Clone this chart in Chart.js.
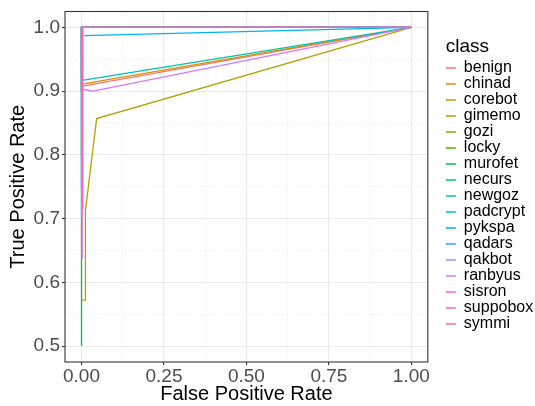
<!DOCTYPE html>
<html>
<head>
<meta charset="utf-8">
<script src="https://cdn.jsdelivr.net/npm/chart.js@4/dist/chart.umd.min.js"></script>
<style>
  body { margin: 0; background: #fff; }
  #wrap { width: 535px; height: 406px; }
</style>
</head>
<body>
<div id="wrap"><canvas id="roc" width="535" height="406"></canvas></div>
<script>
// ROC curves, one per class
const classes = ["benign", "chinad", "corebot", "gimemo", "gozi", "locky", "murofet", "necurs",
  "newgoz", "padcrypt", "pykspa", "qadars", "qakbot", "ranbyus", "sisron", "suppobox", "symmi"];

const fprByClass = [
  [0.003, 1],                 // benign
  [0, 0, 1],                  // chinad
  [0.002, 1],                 // corebot
  [0, 0.011, 0.012, 0.046, 1],// gimemo
  [0, 0, 1],                  // gozi
  [0, 0, 1],                  // locky
  [0, 0, 1],                  // murofet
  [0, 0, 1],                  // necurs
  [0.002, 1],                 // newgoz
  [0, 0, 1],                  // padcrypt
  [0.008, 1],                 // pykspa
  [0, 0, 1],                  // qadars
  [0, 0, 1],                  // qakbot
  [0.003, 0.035, 1],          // ranbyus
  [0.002, 0.002, 1],          // sisron
  [0.004, 0.004, 1],          // suppobox
  [0, 0, 1]                   // symmi
];
const tprByClass = [
  [0.908, 1],
  [0.9, 1, 1],
  [0.911, 1],
  [0.572, 0.572, 0.713, 0.857, 1],
  [0.95, 1, 1],
  [0.8, 1, 1],
  [0.5, 1, 1],
  [0.9, 1, 1],
  [0.917, 1],
  [0.9, 1, 1],
  [0.987, 1],
  [0.75, 1, 1],
  [0.7, 1, 1],
  [0.903, 0.9, 1],
  [0.637, 1, 1],
  [0.715, 1, 1],
  [0.9, 1, 1]
];

const xTicks = [0, 0.25, 0.5, 0.75, 1];
const xMinor = [0.125, 0.375, 0.625, 0.875];
const yTicks = [0.5, 0.6, 0.7, 0.8, 0.9, 1.0];
const yMinor = [0.55, 0.65, 0.75, 0.85, 0.95];

// ggplot-like hue palette
function hcl(h, c, l) {
  const rad = h * Math.PI / 180;
  const U = c * Math.cos(rad), V = c * Math.sin(rad);
  const Xn = 95.047, Yn = 100, Zn = 108.883;
  const Y = Yn * (l > 8 ? Math.pow((l + 16) / 116, 3) : l / 903.3);
  const t = Xn + 15 * Yn + 3 * Zn;
  const u = U / (13 * l) + 4 * Xn / t;
  const v = V / (13 * l) + 9 * Yn / t;
  const X = 9 * Y * u / (4 * v);
  const Z = (9 * Y - 15 * v * Y - v * X) / (3 * v);
  const x = X / 100, y = Y / 100, z = Z / 100;
  const lin = [
    3.240479 * x - 1.537150 * y - 0.498535 * z,
    -0.969256 * x + 1.875992 * y + 0.041556 * z,
    0.055648 * x - 0.204043 * y + 1.057311 * z
  ];
  const rgb = lin.map(q => {
    const g = q <= 0.0031308 ? 12.92 * q : 1.055 * Math.pow(q, 1 / 2.4) - 0.055;
    return Math.round(Math.min(1, Math.max(0, g)) * 255);
  });
  return "rgb(" + rgb.join(",") + ")";
}
const colors = classes.map((_, i) => hcl(15 + i * 360 / classes.length, 100, 65));

const font = "Helvetica, 'Liberation Sans', Arial, sans-serif";

const datasets = classes.map((name, i) => ({
  label: name,
  data: fprByClass[i].map((x, j) => ({ x: x, y: tprByClass[i][j] })),
  borderColor: colors[i],
  backgroundColor: colors[i],
  borderWidth: 1.3,
  pointRadius: 0,
  fill: false,
  tension: 0,
  order: -i
}));

const panelBorder = {
  id: "panelBorder",
  afterDraw(chart) {
    const a = chart.chartArea, ctx = chart.ctx;
    ctx.save();
    ctx.strokeStyle = "#333333";
    ctx.lineWidth = 1.1;
    ctx.strokeRect(a.left, a.top, a.right - a.left, a.bottom - a.top);
    ctx.restore();
  }
};

function setTicks(major, minor) {
  return scale => {
    const all = major.map(v => ({ value: v, major: true }))
      .concat(minor.map(v => ({ value: v, major: false })));
    all.sort((a, b) => a.value - b.value);
    scale.ticks = all;
  };
}

const isMajor = c => c.tick && c.tick.major;

new Chart(document.getElementById("roc"), {
  type: "line",
  data: { datasets: datasets },
  plugins: [panelBorder],
  options: {
    responsive: false,
    devicePixelRatio: 1,
    animation: false,
    layout: { padding: { top: 9, right: 0, left: 0, bottom: 0 } },
    scales: {
      x: {
        type: "linear",
        min: -0.05,
        max: 1.05,
        afterBuildTicks: setTicks(xTicks, xMinor),
        afterFit: s => { s.height = 44; },
        border: { display: false, dash: c => (isMajor(c) ? [] : [1, 2]) },
        grid: {
          color: c => (isMajor(c) ? "#ebebeb" : "#e6e6e6"),
          lineWidth: c => (isMajor(c) ? 1.1 : 0.8),
          tickColor: c => (isMajor(c) ? "#333333" : "rgba(0,0,0,0)"),
          tickLength: 3
        },
        ticks: {
          autoSkip: false,
          maxRotation: 0,
          padding: 2,
          color: "#4d4d4d",
          font: { family: font, size: 19, lineHeight: 1 },
          callback: (v, i, t) => (t[i].major ? v.toFixed(2) : "")
        },
        title: {
          display: true,
          text: "False Positive Rate",
          color: "#000",
          font: { family: font, size: 20, lineHeight: 1 },
          padding: { top: 0, bottom: 2 }
        }
      },
      y: {
        type: "linear",
        min: 0.475,
        max: 1.025,
        afterBuildTicks: setTicks(yTicks, yMinor),
        afterFit: s => { s.width = 65; },
        border: { display: false, dash: c => (isMajor(c) ? [] : [1, 2]) },
        grid: {
          color: c => (isMajor(c) ? "#ebebeb" : "#e6e6e6"),
          lineWidth: c => (isMajor(c) ? 1.1 : 0.8),
          tickColor: c => (isMajor(c) ? "#333333" : "rgba(0,0,0,0)"),
          tickLength: 3
        },
        ticks: {
          autoSkip: false,
          padding: 2,
          color: "#4d4d4d",
          font: { family: font, size: 19, lineHeight: 1 },
          callback: (v, i, t) => (t[i].major ? v.toFixed(1) : "")
        },
        title: {
          display: true,
          text: "True Positive Rate",
          color: "#000",
          font: { family: font, size: 20, lineHeight: 1 },
          padding: { top: 8, bottom: 0 }
        }
      },
      // empty right axis, only used as a gap between panel and legend
      gap: {
        type: "linear",
        position: "right",
        display: true,
        grid: { display: false, drawTicks: false },
        ticks: { display: false },
        border: { display: false },
        afterFit: s => { s.width = 18; }
      }
    },
    plugins: {
      tooltip: { enabled: false },
      legend: {
        position: "right",
        align: "start",
        title: {
          display: true,
          text: "class",
          color: "#000",
          position: "start",
          font: { family: font, size: 19, lineHeight: 1 },
          padding: { top: 28, bottom: 4 }
        },
        labels: {
          usePointStyle: true,
          pointStyle: "line",
          pointStyleWidth: 10,
          color: "#000",
          padding: 0,
          font: { family: font, size: 16, lineHeight: 1 },
          sort: (a, b) => a.datasetIndex - b.datasetIndex
        }
      }
    }
  }
});
</script>
</body>
</html>
